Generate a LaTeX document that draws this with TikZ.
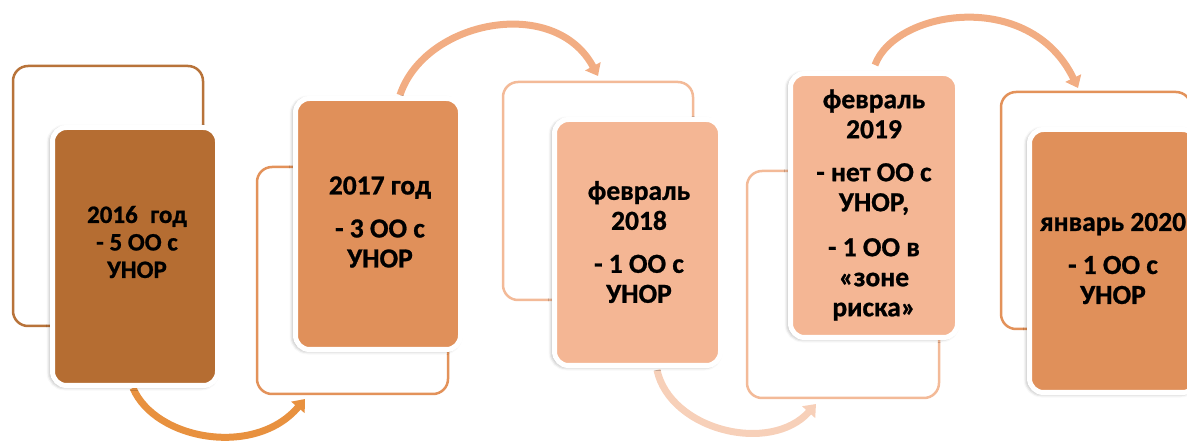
\documentclass[tikz,border=0pt]{standalone}
\usepackage{fontspec}
\setmainfont{Carlito}[BoldFeatures={FakeBold=0.9}]
\usetikzlibrary{arrows.meta,shadows.blur}
\definecolor{fillA}{HTML}{B56D32}
\definecolor{fillB}{HTML}{E0905A}
\definecolor{fillC}{HTML}{F4B694}
\definecolor{lineA}{HTML}{B8733A}
\definecolor{lineB}{HTML}{E3925A}
\definecolor{lineC}{HTML}{F3BA98}
\definecolor{arrA}{HTML}{E8913F}
\definecolor{arrB}{HTML}{F2AD83}
\definecolor{arrC}{HTML}{F7D0B9}
\begin{document}
\begin{tikzpicture}[x=1pt,y=-1pt,
  outl/.style={draw=#1, line width=2.5pt, rounded corners=15pt, inner sep=0pt},
  card/.style={fill=#1, draw=white, line width=5pt, rounded corners=14pt, inner sep=0pt,
    blur shadow={shadow xshift=-2pt, shadow yshift=-1pt, shadow blur radius=4pt, shadow opacity=45}},
  txt/.style={font=\bfseries\fontsize{27.5}{30}\selectfont, align=center, text=black, inner sep=0pt},
  flow/.style={line width=7pt, draw=#1, -{Triangle[width=17pt,length=11pt]}}
]
\useasboundingbox (0,0) rectangle (1187,446);
% outline (back) boxes
\node[outl=lineA, minimum width=190pt, minimum height=260pt] (o1) at (108,196) {};
\node[outl=lineB, minimum width=191pt, minimum height=227pt] (o2) at (352.5,280.5) {};
\node[outl=lineC, minimum width=190pt, minimum height=218pt] (o3) at (598,191) {};
\node[outl=lineC, minimum width=192pt, minimum height=227pt] (o4) at (843,284.5) {};
\node[outl=lineB, minimum width=190pt, minimum height=237pt] (o5) at (1096,210.5) {};
% arrow end points
\coordinate (e1) at (305,399);
\coordinate (e2) at (598,76);
\coordinate (e3) at (816,404);
\coordinate (e4) at (1078,88);
\coordinate (s1) at (133,388);
\coordinate (s2) at (400,95);
\coordinate (s3) at (657,370);
\coordinate (s4) at (875,65);
% arrows
\draw[flow=arrA] (s1) .. controls (155,440) and (255,458) .. (e1);
\draw[flow=arrB] (s2) .. controls (425,20) and (555,-5) .. (e2);
\draw[flow=arrC] (s3) .. controls (670,430) and (770,455) .. (e3);
\draw[flow=arrB] (s4) .. controls (895,10) and (1030,-12) .. (e4);
% filled cards
\node[card=fillA, minimum width=165pt, minimum height=258pt] (c1) at (135,256.5) {};
\node[card=fillB, minimum width=165pt, minimum height=251pt] (c2) at (378,224) {};
\node[card=fillC, minimum width=166pt, minimum height=246pt] (c3) at (637.5,242.5) {};
\node[card=fillC, minimum width=167pt, minimum height=264pt] (c4) at (874,205.5) {};
\node[card=fillB, minimum width=167pt, minimum height=263pt] (c5) at (1113,261) {};
% texts
\node[txt, font=\bfseries\fontsize{25}{27.5}\selectfont] (t1) at (137,242) {2016\hspace{0.5em}год\\- 5 ОО с\\УНОР};
\node[txt] (t2) at (380,222) {2017 год\\[13pt]- 3 ОО с\\УНОР};
\node[txt] (t3) at (639,242) {февраль\\2018\\[13pt]- 1 ОО с\\УНОР};
\node[txt] (t4) at (874,205) {февраль\\2019\\[13pt]- нет ОО с\\УНОР,\\[15pt]- 1 ОО в\\«зоне\\риска»};
\node[txt] (t5) at (1113,258.5) {январь 2020\\[13pt]- 1 ОО с\\УНОР};
\end{tikzpicture}
\end{document}
